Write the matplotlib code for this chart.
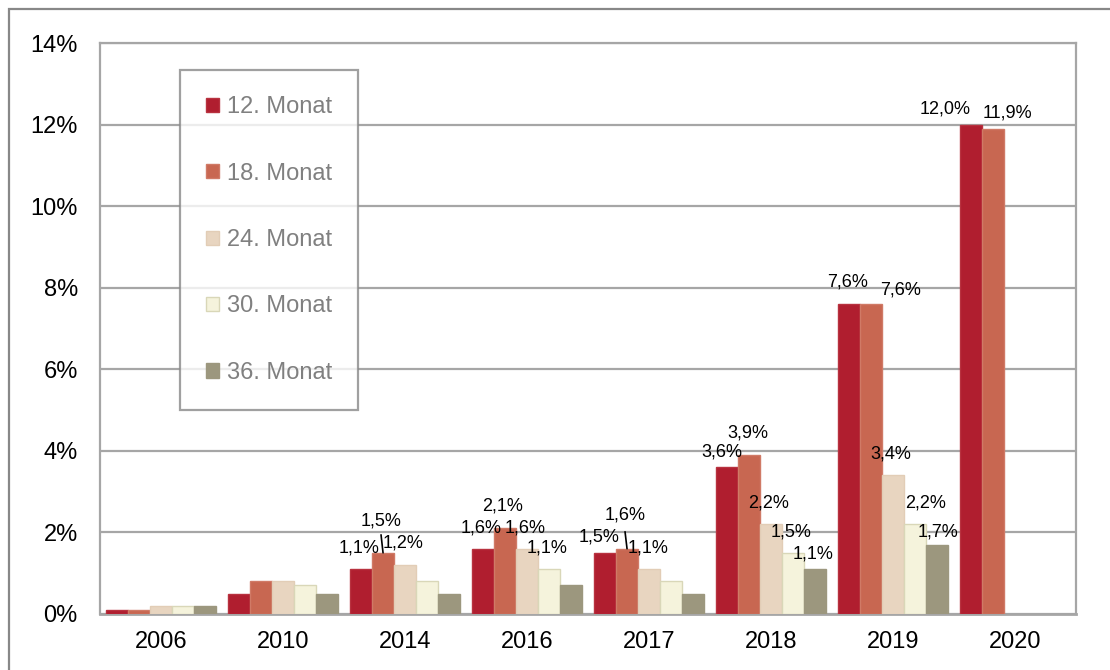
"""Ausfallquoten nach Monat und Jahrgang als gruppiertes Balkendiagramm."""

import matplotlib
import numpy as np

matplotlib.use("Agg")
from matplotlib import pyplot as plt  # noqa: E402
from matplotlib.patches import Rectangle  # noqa: E402

YEARS = ["2006", "2010", "2014", "2016", "2017", "2018", "2019", "2020"]
SERIES = ["12. Monat", "18. Monat", "24. Monat", "30. Monat", "36. Monat"]

month_12 = [0.1, 0.5, 1.1, 1.6, 1.5, 3.6, 7.6, 12.0]
month_18 = [0.1, 0.8, 1.5, 2.1, 1.6, 3.9, 7.6, 11.9]
month_24 = [0.2, 0.8, 1.2, 1.6, 1.1, 2.2, 3.4, np.nan]
month_30 = [0.2, 0.7, 0.8, 1.1, 0.8, 1.5, 2.2, np.nan]
month_36 = [0.2, 0.5, 0.5, 0.7, 0.5, 1.1, 1.7, np.nan]

COLORS = ["#B01E2F", "#C86751", "#E8D5C0", "#F5F3DC", "#9C977E"]
EDGES = ["#B8323F", "#D07A66", "#E2CDB6", "#D9D7B8", "#9C977E"]

# (Jahr, Serie) -> Versatz des Labels in Pixeln (dx, dy), nur beschriftete Balken
LABEL_OFFSETS = {
    (2, 0): (-2, 21), (2, 1): (-2, 32), (2, 2): (-2, 22),
    (3, 0): (-2, 21), (3, 1): (-2, 22), (3, 2): (-2, 21), (3, 3): (-2, 21),
    (4, 0): (-6, 16), (4, 1): (-2, 34), (4, 2): (-1, 21),
    (5, 0): (-5, 15), (5, 1): (-1, 22), (5, 2): (-2, 21), (5, 3): (-2, 21), (5, 4): (-2, 15),
    (6, 0): (-2, 22), (6, 1): (30, 14), (6, 2): (-2, 21), (6, 3): (11, 21), (6, 4): (1, 13),
    (7, 0): (-26, 16), (7, 1): (14, 16),
}
LEADER_LINES = [(2, 1, 18), (4, 1, 17)]

PX = 72 / 100  # Pixel -> Punkte bei dpi=100
GRID = "#A6A6A6"

plt.rcParams["font.family"] = ["Liberation Sans", "DejaVu Sans"]

fig = plt.figure(figsize=(11.1, 6.7), dpi=100)
ax = fig.add_axes([100 / 1110, 1 - 614 / 670, 976 / 1110, 571 / 670])

values = [month_12, month_18, month_24, month_30, month_36]
x = np.arange(len(YEARS))
width = 0.18
for i, (series, vals) in enumerate(zip(SERIES, values)):
    pos = x + (i - 2) * width
    ax.bar(pos, vals, width, color=COLORS[i], edgecolor=EDGES[i], linewidth=1, label=series, zorder=3)
    for j, v in enumerate(vals):
        if (j, i) in LABEL_OFFSETS:
            dx, dy = LABEL_OFFSETS[(j, i)]
            ax.annotate(f"{v:.1f}".replace(".", ",") + "%", xy=(pos[j], v), xytext=(dx * PX, dy * PX),
                        textcoords="offset points", ha="center", va="center", fontsize=13, zorder=5)

for j, i, length in LEADER_LINES:
    v = values[i][j]
    ax.annotate("", xy=(x[j] + (i - 2) * width, v), xytext=(-2 * PX, length * PX), textcoords="offset points",
                arrowprops=dict(arrowstyle="-", color="black", lw=1.2, shrinkA=0, shrinkB=0), zorder=5)

ax.set_xlim(-0.5, len(YEARS) - 0.5)
ax.set_ylim(0, 14)
ax.set_yticks(np.arange(0, 15, 2))
ax.set_yticklabels([f"{t}%" for t in range(0, 15, 2)])
ax.set_xticks(x)
ax.set_xticklabels(YEARS)
ax.tick_params(axis="both", length=0, labelsize=17)
ax.tick_params(axis="y", pad=16)
ax.tick_params(axis="x", pad=12)
ax.yaxis.grid(True, color=GRID, linewidth=1.6, zorder=0)
ax.set_axisbelow(True)
for side in ax.spines.values():
    side.set_color(GRID)
    side.set_linewidth(1.6)
ax.spines["bottom"].set_linewidth(2)

leg = ax.legend(loc="upper left", bbox_to_anchor=(0.082, 0.953), borderaxespad=0, fontsize=17,
                labelspacing=1.88, handlelength=0.55, handleheight=0.55, handletextpad=0.3,
                borderpad=1.12, fancybox=False, frameon=True, labelcolor="#808080")
leg.get_frame().set_edgecolor("#888888")
leg.get_frame().set_linewidth(1.6)

# Rahmen um das ganze Diagramm (rechts und unten abgeschnitten)
fig.patches.append(Rectangle((9 / 1110, -0.1), 1.2, 1 - 9 / 670 + 0.1, transform=fig.transFigure,
                             fill=False, edgecolor="#888888", linewidth=1.6))

fig.savefig("out.png", dpi=100)
